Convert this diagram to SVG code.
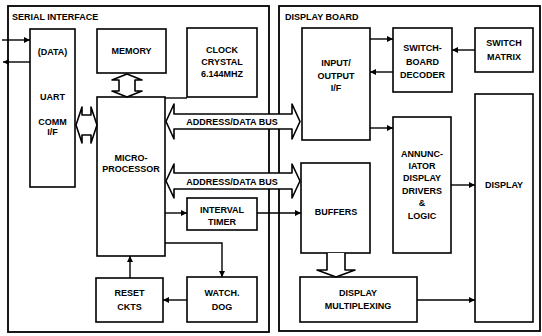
<svg xmlns="http://www.w3.org/2000/svg" width="542" height="336" viewBox="0 0 542 336">
<defs>
<marker id="ah" markerUnits="userSpaceOnUse" markerWidth="7" markerHeight="7" refX="6" refY="3.5" orient="auto">
<path d="M0,0.5 L6,3.5 L0,6.5 Z" fill="#000"/>
</marker>
</defs>
<style>
.frame{fill:none;stroke:#000;stroke-width:1.8}
.box{fill:#fff;stroke:#000;stroke-width:1.6}
.bus{fill:#fff;stroke:#000;stroke-width:1.6;stroke-linejoin:round}
.c{fill:none;stroke:#000;stroke-width:1.4}
.ca{fill:none;stroke:#000;stroke-width:1.4;marker-end:url(#ah)}
text{font-family:"Liberation Sans",Arial,sans-serif;font-weight:bold;font-size:9px;fill:#000;text-anchor:middle}
.hdr{text-anchor:start}
</style>
<rect width="542" height="336" fill="#fff"/>
<g id="serial-interface">
<rect class="frame" x="8" y="6" width="261" height="326"/>
<text class="hdr" x="12" y="20">SERIAL INTERFACE</text>
</g>
<g id="display-board">
<rect class="frame" x="279" y="6" width="261" height="325"/>
<text class="hdr" x="285" y="20">DISPLAY BOARD</text>
</g>
<g id="uart">
<rect class="box" x="30" y="29" width="45" height="158"/>
<text x="52.5" y="55">(DATA)</text>
<text x="52.5" y="100">UART</text>
<text x="52.5" y="125">COMM</text>
<text x="52.5" y="135">I/F</text>
</g>
<g id="memory">
<rect class="box" x="97" y="29" width="69" height="44"/>
<text x="131.5" y="54">MEMORY</text>
</g>
<g id="clock">
<rect class="box" x="187" y="28" width="70" height="69"/>
<text x="222" y="53">CLOCK</text>
<text x="222" y="65">CRYSTAL</text>
<text x="222" y="77">6.144MHZ</text>
</g>
<g id="microprocessor">
<rect class="box" x="97" y="97" width="68" height="159"/>
<text x="131" y="161">MICRO-</text>
<text x="131" y="172">PROCESSOR</text>
</g>
<g id="interval-timer">
<rect class="box" x="187" y="198" width="70" height="32"/>
<text x="222" y="213">INTERVAL</text>
<text x="222" y="225">TIMER</text>
</g>
<g id="reset">
<rect class="box" x="96" y="278" width="67" height="44"/>
<text x="129.5" y="296">RESET</text>
<text x="129.5" y="310">CKTS</text>
</g>
<g id="watchdog">
<rect class="box" x="187" y="277" width="70" height="45"/>
<text x="222" y="296">WATCH.</text>
<text x="222" y="310">DOG</text>
</g>
<g id="io">
<rect class="box" x="302" y="28" width="68" height="112"/>
<text x="336" y="66">INPUT/</text>
<text x="336" y="79">OUTPUT</text>
<text x="336" y="91">I/F</text>
</g>
<g id="decoder">
<rect class="box" x="393" y="28" width="59" height="64"/>
<text x="422.5" y="51">SWITCH-</text>
<text x="422.5" y="65">BOARD</text>
<text x="422.5" y="78">DECODER</text>
</g>
<g id="matrix">
<rect class="box" x="475" y="28" width="58" height="44"/>
<text x="504" y="46">SWITCH</text>
<text x="504" y="60">MATRIX</text>
</g>
<g id="annunciator">
<rect class="box" x="393" y="117" width="58" height="136"/>
<text x="422" y="157">ANNUNC-</text>
<text x="422" y="169">IATOR</text>
<text x="422" y="181">DISPLAY</text>
<text x="422" y="194">DRIVERS</text>
<text x="422" y="206">&amp;</text>
<text x="422" y="219">LOGIC</text>
</g>
<g id="display">
<rect class="box" x="475" y="94" width="58" height="228"/>
<text x="504" y="188">DISPLAY</text>
</g>
<g id="buffers">
<rect class="box" x="301" y="163" width="69" height="90"/>
<text x="336" y="215">BUFFERS</text>
</g>
<g id="multiplexing">
<rect class="box" x="300" y="277" width="117" height="45"/>
<text x="358" y="296">DISPLAY</text>
<text x="358" y="309">MULTIPLEXING</text>
</g>
<g id="connectors">
<path class="bus" d="M166,121.5 L174,104 L174,114 L292,114 L292,104 L300,121.5 L292,139 L292,129 L174,129 L174,139 Z"/>
<text x="232" y="124.5">ADDRESS/DATA BUS</text>
<path class="bus" d="M166,181 L174,164 L174,173 L292,173 L292,164 L300,181 L292,198 L292,189 L174,189 L174,198 Z"/>
<text x="232" y="184.5">ADDRESS/DATA BUS</text>
<path class="bus" d="M76,125 L82,107 L82,115 L91,115 L91,107 L97,125 L91,143 L91,135 L82,135 L82,143 Z"/>
<path class="bus" d="M127,74 L142,80 L135,80 L135,91 L142,91 L127,97 L112,91 L119,91 L119,80 L112,80 Z"/>
<path class="bus" d="M327,253 L327,270 L317,270 L336,277 L355,270 L345,270 L345,253"/>
<path class="ca" d="M2,40 L30,40"/>
<path class="ca" d="M30,62 L3,62"/>
<path class="c" d="M165,98 L187,98"/>
<path class="ca" d="M165,213 L187,213"/>
<path class="ca" d="M257,213 L301,213"/>
<path class="ca" d="M165,243 L222,243 L222,277"/>
<path class="ca" d="M187,300 L163,300"/>
<path class="ca" d="M130,278 L130,256"/>
<path class="ca" d="M370,39 L393,39"/>
<path class="ca" d="M393,72 L370,72"/>
<path class="ca" d="M475,50 L452,50"/>
<path class="ca" d="M370,128 L393,128"/>
<path class="ca" d="M451,185 L475,185"/>
<path class="ca" d="M417,300 L475,300"/>
</g>
</svg>
